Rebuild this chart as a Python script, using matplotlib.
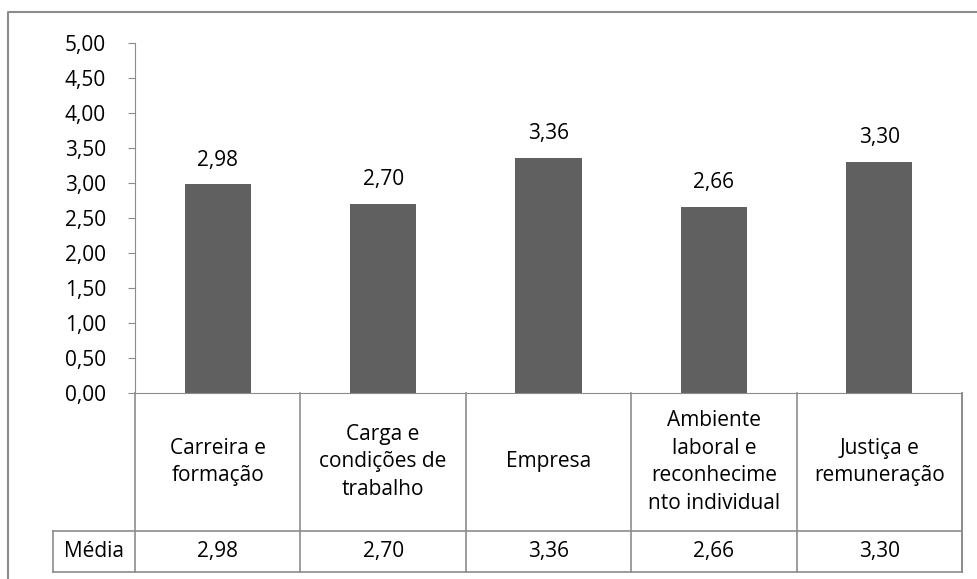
import numpy as np
import matplotlib.pyplot as plt
from matplotlib.lines import Line2D
import matplotlib.transforms as mtransforms

# Data
categories = ['Carreira e\nformação', 'Carga e\ncondições de\ntrabalho', 'Empresa',
              'Ambiente\nlaboral e\nreconhecime\nnto individual', 'Justiça e\nremuneração']
values = [2.98, 2.70, 3.36, 2.66, 3.30]
series_name = 'Média'
yticks = np.arange(0, 5.01, 0.5)

plt.rcParams['font.family'] = ['Open Sans', 'DejaVu Sans']
FS = 15

W, H = 978, 579
fig = plt.figure(figsize=(W / 100, H / 100), dpi=100)
ax = fig.add_axes([135 / W, 1 - 393 / H, (962 - 135) / W, (393 - 43) / H])

grey = '#8c8c8c'
x = np.arange(len(values))
bars = ax.bar(x, values, width=0.4, color='#606060', zorder=2)

def fmt(v):
    return f'{v:.2f}'.replace('.', ',')

for b, v in zip(bars, values):
    ax.annotate(fmt(v), (b.get_x() + b.get_width() / 2, v), xytext=(0, 10),
                textcoords='offset points', ha='center', va='bottom', fontsize=FS)

ax.set_xlim(-0.5, len(values) - 0.5)
ax.set_ylim(0, 5)
ax.set_yticks(yticks)
ax.set_yticklabels([fmt(t) for t in yticks], fontsize=FS)
ax.set_xticks([])
for s in ['top', 'right']:
    ax.spines[s].set_visible(False)
ax.spines['left'].set_color(grey)
ax.spines['bottom'].set_color(grey)
ax.tick_params(axis='y', length=5, color=grey, pad=16)

# data table below axis
tr = mtransforms.blended_transform_factory(ax.transData, ax.transAxes)
y_head = -(531 - 393) / 350
y_val = -(572 - 393) / 350
x_left = -0.5 - 82 / 165
kw = dict(color=grey, lw=1.2, transform=tr, clip_on=False)
for xb in np.arange(-0.5, len(values), 1.0):
    ax.add_line(Line2D([xb, xb], [0, y_val], **kw))
ax.add_line(Line2D([x_left, len(values) - 0.5], [y_head, y_head], **kw))
ax.add_line(Line2D([x_left, len(values) - 0.5], [y_val, y_val], **kw))
ax.add_line(Line2D([x_left, x_left], [y_head, y_val], **kw))
ax.add_line(Line2D([len(values) - 0.5] * 2, [0, y_val], **kw))

for i, (c, v) in enumerate(zip(categories, values)):
    ax.text(i, y_head / 2, c, transform=tr, ha='center', va='center',
            fontsize=FS, linespacing=1.4)
    ax.text(i, (y_head + y_val) / 2, fmt(v), transform=tr, ha='center',
            va='center', fontsize=FS)
ax.text((x_left - 0.5) / 2, (y_head + y_val) / 2, series_name, transform=tr,
        ha='center', va='center', fontsize=FS)

# chart area border (left and top visible)
fig.add_artist(Line2D([8 / W, 8 / W, 1.0], [0, 1 - 12 / H, 1 - 12 / H],
                      color=grey, lw=1.5, transform=fig.transFigure))

fig.savefig('out.png', dpi=100)
